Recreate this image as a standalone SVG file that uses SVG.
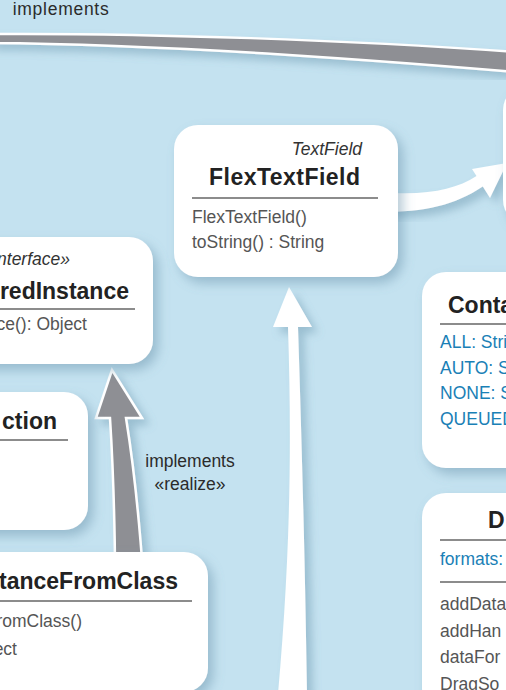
<svg xmlns="http://www.w3.org/2000/svg" width="506" height="690" viewBox="0 0 506 690">
<defs>
<filter id="sh" x="-30%" y="-30%" width="160%" height="160%">
<feDropShadow dx="5" dy="6" stdDeviation="6" flood-color="#5d8aa3" flood-opacity="0.45"/>
</filter>
<filter id="ash" x="-50%" y="-20%" width="200%" height="140%">
<feDropShadow dx="6" dy="6" stdDeviation="4" flood-color="#5d8aa3" flood-opacity="0.4"/>
</filter>
<style>
.box{fill:#fff;filter:url(#sh)}
.t{font-family:"Liberation Sans",Arial,sans-serif;fill:#555;font-size:17.5px}
.b{font-family:"Liberation Sans",Arial,sans-serif;fill:#222;font-size:23px;font-weight:bold}
.i{font-family:"Liberation Sans",Arial,sans-serif;fill:#333;font-size:17.5px;font-style:italic}
.a{font-family:"Liberation Sans",Arial,sans-serif;fill:#1a80b6;font-size:17.5px}
.lbl{font-family:"Liberation Sans",Arial,sans-serif;fill:#2b2b2b;font-size:17.5px}
.sep{stroke:#666;stroke-width:1.5}
.gray{fill:#8e8f94;stroke:#fff;stroke-width:2.5;stroke-linejoin:miter}
.white{fill:#fff}
</style>
</defs>
<rect width="506" height="690" fill="#c4e2f0"/>
<g id="connectors">
<path class="gray" filter="url(#ash)" d="M-10,34 C150,33 350,40 516,52 L516,72 C350,58 150,44 -10,43 Z"/>
<path class="gray" filter="url(#ash)" d="M112,370 L96,418 L110,418 Q114,480 115,560 L142,560 Q136,480 126,418 L142,418 Z"/>
<path class="white" filter="url(#ash)" d="M289,287 L273,327 L288,327 C292,450 290,560 278,694 L307,694 C305,560 302,450 298,327 L312,327 Z"/>
<path class="white" filter="url(#ash)" d="M380,192 C425,196 455,190 476.5,176 L472,169 L507,163 L490,198 L482.8,186.4 C455,205 425,212 380,212 Z"/>
<text class="lbl" x="12.7" y="15" textLength="96">implements</text>
<text class="lbl" x="190" y="467" text-anchor="middle">implements</text>
<text class="lbl" x="190" y="490" text-anchor="middle">«realize»</text>
</g>
<g id="node-flextextfield">
<rect class="box" x="174" y="125" width="224" height="152" rx="24"/>
<text class="i" x="362" y="155" text-anchor="end">TextField</text>
<text class="b" x="360" y="185" text-anchor="end" textLength="151">FlexTextField</text>
<line class="sep" x1="192" y1="198" x2="378" y2="198"/>
<text class="t" x="192" y="223">FlexTextField()</text>
<text class="t" x="192" y="248">toString() : String</text>
</g>
<g id="node-deferredinstance">
<rect class="box" x="-40" y="237" width="193" height="127" rx="24"/>
<text class="i" x="70" y="265" text-anchor="end">nterface»</text>
<text class="b" x="129" y="299" text-anchor="end">redInstance</text>
<line class="sep" x1="0" y1="309" x2="135" y2="309"/>
<text class="t" x="87" y="330" text-anchor="end">ce(): Object</text>
</g>
<g id="node-ction">
<rect class="box" x="-40" y="392" width="128" height="138" rx="24"/>
<text class="b" x="57" y="429" text-anchor="end">ction</text>
<line class="sep" x1="0" y1="440" x2="68" y2="440"/>
</g>
<g id="node-fromclass">
<rect class="box" x="-40" y="552" width="248" height="140" rx="24"/>
<text class="b" x="178" y="589" text-anchor="end">tanceFromClass</text>
<line class="sep" x1="0" y1="601" x2="192" y2="601"/>
<text class="t" x="82" y="627" text-anchor="end">romClass()</text>
<text class="t" x="17" y="655" text-anchor="end">ect</text>
</g>
<g id="node-right-top">
<rect class="box" x="503" y="85" width="100" height="140" rx="25"/>
</g>
<g id="node-conta">
<rect class="box" x="422" y="272" width="120" height="196" rx="24"/>
<text class="b" x="448" y="313">Conta</text>
<line class="sep" x1="440" y1="324" x2="510" y2="324"/>
<text class="a" x="440" y="348">ALL: Stri</text>
<text class="a" x="440" y="373.5">AUTO: St</text>
<text class="a" x="440" y="399">NONE: S</text>
<text class="a" x="440" y="424.5">QUEUED</text>
</g>
<g id="node-d">
<rect class="box" x="422" y="493" width="120" height="220" rx="24"/>
<text class="b" x="488" y="528">D</text>
<line class="sep" x1="440" y1="540" x2="510" y2="540"/>
<text class="a" x="440" y="565">formats:</text>
<line class="sep" x1="440" y1="582" x2="510" y2="582"/>
<text class="t" x="440" y="610">addData</text>
<text class="t" x="440" y="637">addHan</text>
<text class="t" x="440" y="663">dataFor</text>
<text class="t" x="440" y="690">DragSo</text>
</g>
</svg>
